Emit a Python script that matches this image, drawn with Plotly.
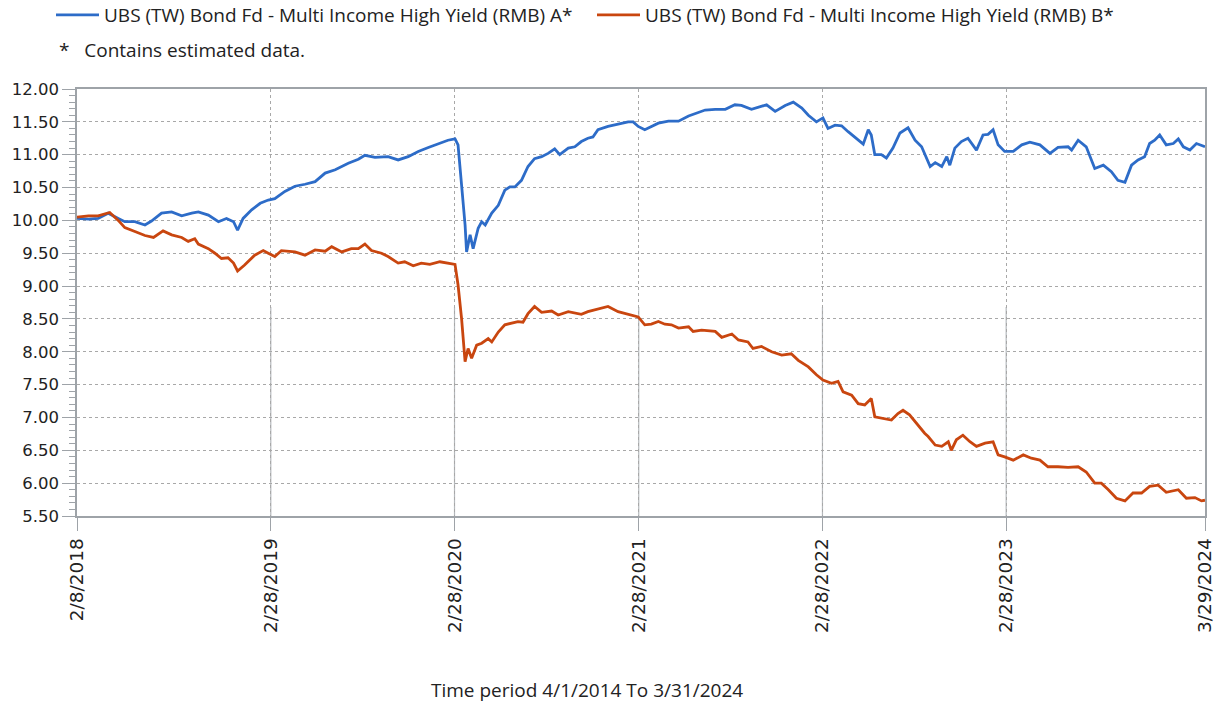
import plotly.graph_objects as go

# ---------------- data ----------------
series_a_name = "UBS (TW) Bond Fd - Multi Income High Yield (RMB) A*"
series_b_name = "UBS (TW) Bond Fd - Multi Income High Yield (RMB) B*"

dates_a = [
    "2018-02-08", "2018-03-03", "2018-03-22", "2018-04-11", "2018-05-01", "2018-05-14", "2018-06-03",
    "2018-06-23", "2018-07-06", "2018-07-26", "2018-08-15", "2018-09-04", "2018-09-24", "2018-10-07",
    "2018-10-27", "2018-11-16", "2018-12-02", "2018-12-16", "2018-12-24", "2019-01-04", "2019-01-21",
    "2019-02-07", "2019-02-23", "2019-03-08", "2019-03-28", "2019-04-17", "2019-05-07", "2019-05-27",
    "2019-06-16", "2019-07-06", "2019-08-01", "2019-08-21", "2019-09-03", "2019-09-23", "2019-10-19",
    "2019-11-08", "2019-11-28", "2019-12-18", "2020-01-07", "2020-01-26", "2020-02-15", "2020-02-29",
    "2020-03-06", "2020-03-13", "2020-03-20", "2020-03-23", "2020-03-30", "2020-04-05", "2020-04-15",
    "2020-04-22", "2020-04-29", "2020-05-12", "2020-05-25", "2020-06-07", "2020-06-17", "2020-06-27",
    "2020-07-10", "2020-07-23", "2020-08-05", "2020-08-19", "2020-09-01", "2020-09-14", "2020-09-24",
    "2020-10-11", "2020-10-24", "2020-11-06", "2020-11-19", "2020-11-29", "2020-12-09", "2020-12-29",
    "2021-01-18", "2021-02-07", "2021-02-17", "2021-02-27", "2021-03-12", "2021-04-08", "2021-04-28",
    "2021-05-18", "2021-06-07", "2021-06-26", "2021-07-10", "2021-07-30", "2021-08-19", "2021-09-07",
    "2021-09-20", "2021-10-10", "2021-10-30", "2021-11-09", "2021-11-26", "2021-12-16", "2022-01-01",
    "2022-01-18", "2022-01-31", "2022-02-16", "2022-03-01", "2022-03-11", "2022-03-25", "2022-04-07",
    "2022-04-20", "2022-05-07", "2022-05-20", "2022-05-30", "2022-06-05", "2022-06-12", "2022-06-25",
    "2022-07-05", "2022-07-18", "2022-08-01", "2022-08-17", "2022-08-31", "2022-09-13", "2022-09-30",
    "2022-10-10", "2022-10-23", "2022-11-02", "2022-11-08", "2022-11-18", "2022-12-01", "2022-12-14",
    "2022-12-31", "2023-01-13", "2023-01-23", "2023-02-02", "2023-02-12", "2023-02-25", "2023-03-14",
    "2023-03-31", "2023-04-16", "2023-05-06", "2023-05-26", "2023-06-11", "2023-07-01", "2023-07-08",
    "2023-07-21", "2023-08-06", "2023-08-23", "2023-09-09", "2023-09-25", "2023-10-08", "2023-10-22",
    "2023-11-04", "2023-11-17", "2023-11-30", "2023-12-10", "2023-12-20", "2023-12-30", "2024-01-12",
    "2024-01-26", "2024-02-05", "2024-02-15", "2024-02-28", "2024-03-12", "2024-03-29",
]
nav_a = [
    10.03, 10.02, 10.03, 10.11, 10.03, 9.98, 9.98,
    9.93, 9.99, 10.11, 10.13, 10.07, 10.11, 10.13,
    10.08, 9.98, 10.03, 9.98, 9.85, 10.03, 10.16,
    10.26, 10.31, 10.33, 10.44, 10.52, 10.55, 10.59,
    10.72, 10.77, 10.87, 10.93, 10.99, 10.96, 10.97,
    10.92, 10.97, 11.05, 11.11, 11.16, 11.22, 11.24,
    11.15, 10.54, 9.93, 9.52, 9.78, 9.57, 9.88,
    9.98, 9.93, 10.11, 10.23, 10.46, 10.51, 10.51,
    10.61, 10.82, 10.94, 10.97, 11.02, 11.09, 11.00,
    11.10, 11.12, 11.20, 11.25, 11.27, 11.38, 11.43,
    11.46, 11.50, 11.50, 11.43, 11.38, 11.48, 11.51,
    11.51, 11.59, 11.64, 11.68, 11.69, 11.69, 11.76,
    11.75, 11.69, 11.73, 11.76, 11.66, 11.75, 11.80,
    11.71, 11.60, 11.50, 11.56, 11.40, 11.45, 11.44,
    11.35, 11.25, 11.16, 11.38, 11.30, 11.00, 11.00,
    10.95, 11.10, 11.33, 11.41, 11.22, 11.12, 10.82,
    10.88, 10.82, 10.97, 10.84, 11.10, 11.20, 11.25,
    11.07, 11.30, 11.31, 11.38, 11.15, 11.05, 11.05,
    11.15, 11.19, 11.15, 11.02, 11.11, 11.12, 11.07,
    11.22, 11.12, 10.79, 10.84, 10.74, 10.61, 10.58,
    10.84, 10.92, 10.97, 11.17, 11.22, 11.30, 11.15,
    11.17, 11.24, 11.12, 11.07, 11.17, 11.12,
]

dates_b = [
    "2018-02-08", "2018-03-03", "2018-03-22", "2018-04-14", "2018-05-01", "2018-05-14", "2018-06-03",
    "2018-06-23", "2018-07-10", "2018-07-29", "2018-08-15", "2018-09-04", "2018-09-17", "2018-09-30",
    "2018-10-07", "2018-10-27", "2018-11-09", "2018-11-22", "2018-12-05", "2018-12-16", "2018-12-24",
    "2019-01-07", "2019-01-27", "2019-02-13", "2019-02-23", "2019-03-08", "2019-03-21", "2019-04-17",
    "2019-05-07", "2019-05-27", "2019-06-16", "2019-06-29", "2019-07-19", "2019-08-07", "2019-08-21",
    "2019-09-03", "2019-09-16", "2019-10-06", "2019-10-19", "2019-11-08", "2019-11-21", "2019-12-08",
    "2019-12-24", "2020-01-10", "2020-01-30", "2020-02-15", "2020-02-29", "2020-03-06", "2020-03-13",
    "2020-03-20", "2020-03-26", "2020-04-02", "2020-04-12", "2020-04-22", "2020-05-05", "2020-05-12",
    "2020-05-25", "2020-06-07", "2020-06-20", "2020-07-03", "2020-07-13", "2020-07-23", "2020-08-05",
    "2020-08-19", "2020-09-08", "2020-09-21", "2020-10-11", "2020-11-06", "2020-11-19", "2020-12-03",
    "2020-12-29", "2021-01-18", "2021-02-07", "2021-02-27", "2021-03-12", "2021-03-25", "2021-04-08",
    "2021-04-21", "2021-05-04", "2021-05-18", "2021-06-07", "2021-06-16", "2021-07-03", "2021-07-30",
    "2021-08-12", "2021-09-01", "2021-09-14", "2021-10-03", "2021-10-13", "2021-10-30", "2021-11-19",
    "2021-12-09", "2021-12-28", "2022-01-11", "2022-01-31", "2022-02-16", "2022-03-01", "2022-03-18",
    "2022-03-31", "2022-04-10", "2022-04-27", "2022-05-10", "2022-05-23", "2022-06-05", "2022-06-12",
    "2022-06-29", "2022-07-15", "2022-07-28", "2022-08-07", "2022-08-20", "2022-09-06", "2022-09-19",
    "2022-09-26", "2022-10-10", "2022-10-23", "2022-11-05", "2022-11-11", "2022-11-21", "2022-12-04",
    "2022-12-18", "2022-12-31", "2023-01-17", "2023-02-02", "2023-02-12", "2023-02-25", "2023-03-14",
    "2023-04-03", "2023-04-19", "2023-05-06", "2023-05-22", "2023-06-11", "2023-07-01", "2023-07-21",
    "2023-08-06", "2023-08-23", "2023-09-05", "2023-09-19", "2023-10-05", "2023-10-22", "2023-11-07",
    "2023-11-24", "2023-12-10", "2023-12-27", "2024-01-12", "2024-02-05", "2024-02-21", "2024-03-09",
    "2024-03-22", "2024-03-29",
]
nav_b = [
    10.05, 10.07, 10.07, 10.12, 10.00, 9.89, 9.83,
    9.77, 9.74, 9.84, 9.78, 9.74, 9.68, 9.72,
    9.64, 9.57, 9.50, 9.42, 9.43, 9.35, 9.23,
    9.32, 9.47, 9.54, 9.50, 9.45, 9.54, 9.52,
    9.47, 9.55, 9.53, 9.60, 9.52, 9.57, 9.57,
    9.64, 9.54, 9.50, 9.45, 9.35, 9.37, 9.31,
    9.35, 9.33, 9.37, 9.35, 9.33, 9.02, 8.51,
    7.85, 8.05, 7.90, 8.10, 8.13, 8.20, 8.15,
    8.30, 8.41, 8.43, 8.46, 8.45, 8.58, 8.69,
    8.60, 8.62, 8.56, 8.61, 8.57, 8.61, 8.64,
    8.69, 8.61, 8.57, 8.53, 8.41, 8.42, 8.46,
    8.42, 8.41, 8.36, 8.38, 8.31, 8.33, 8.31,
    8.22, 8.27, 8.18, 8.15, 8.05, 8.08, 8.00,
    7.95, 7.97, 7.87, 7.77, 7.65, 7.57, 7.52,
    7.55, 7.39, 7.34, 7.21, 7.19, 7.29, 7.01,
    6.99, 6.96, 7.06, 7.11, 7.04, 6.88, 6.76,
    6.71, 6.58, 6.56, 6.63, 6.50, 6.66, 6.73,
    6.63, 6.56, 6.61, 6.63, 6.43, 6.40, 6.35,
    6.43, 6.38, 6.35, 6.25, 6.25, 6.24, 6.25,
    6.17, 6.00, 6.00, 5.90, 5.77, 5.73, 5.85,
    5.85, 5.95, 5.97, 5.86, 5.90, 5.77, 5.78,
    5.73, 5.74,
]

x_tick_dates = ["2018-02-08", "2019-02-28", "2020-02-28", "2021-02-28", "2022-02-28", "2023-02-28", "2024-03-29"]
x_tick_labels = ["2/8/2018", "2/28/2019", "2/28/2020", "2/28/2021", "2/28/2022", "2/28/2023", "3/29/2024"]
y_min, y_max, y_step = 5.5, 12.0, 0.5
solid_grid_top = 8.68   # vertical gridlines turn from dotted to solid below this level

period_text = "Time period 4/1/2014 To 3/31/2024"
note_text = "*\u00a0\u00a0\u00a0Contains estimated data."

# ---------------- styling / layout geometry ----------------
W, H = 1232, 706
PLOT_L, PLOT_T, PLOT_R, PLOT_B = 77, 89, 1205, 516   # plot frame in page pixels
ML, MT = PLOT_L, PLOT_T
PW, PH = PLOT_R - PLOT_L, PLOT_B - PLOT_T
MR, MB = W - ML - PW, H - MT - PH


def px_to_paper_x(px):
    return (px - PLOT_L) / PW


def px_to_paper_y(py):
    return (PLOT_B - py) / PH


BLUE = "#2D6CC8"
ORANGE = "#C9460F"
GRID = "#A8A8A8"
AXIS = "#9EA3A8"
TEXT = "#222222"
UI_FONT = "Open Sans"
TICK_FONT = "DejaVu Sans"

fig = go.Figure()
fig.add_trace(go.Scatter(x=dates_a, y=nav_a, mode="lines", name=series_a_name,
                         line=dict(color=BLUE, width=2.8)))
fig.add_trace(go.Scatter(x=dates_b, y=nav_b, mode="lines", name=series_b_name,
                         line=dict(color=ORANGE, width=2.8)))

# lower, solid part of vertical gridlines
for d in x_tick_dates[1:-1]:
    fig.add_shape(type="line", xref="x", yref="y", x0=d, x1=d, y0=y_min, y1=solid_grid_top,
                  line=dict(color="#B4B8BC", width=1.2), layer="below")

fig.update_layout(
    width=W, height=H,
    margin=dict(l=ML, r=MR, t=MT, b=MB, autoexpand=False),
    paper_bgcolor="white", plot_bgcolor="white",
    font=dict(family=UI_FONT, size=19, color=TEXT),
    showlegend=True,
    legend=dict(orientation="h", xref="paper", yref="paper",
                x=px_to_paper_x(51), y=px_to_paper_y(15), xanchor="left", yanchor="middle",
                font=dict(family=UI_FONT, size=19, color=TEXT),
                itemwidth=43, entrywidth=483, entrywidthmode="pixels",
                bgcolor="rgba(0,0,0,0)", itemclick=False),
    annotations=[
        dict(text=note_text, xref="paper", yref="paper",
             x=px_to_paper_x(57), y=px_to_paper_y(49.5), xanchor="left", yanchor="middle",
             showarrow=False, font=dict(family=UI_FONT, size=19, color=TEXT)),
        dict(text=period_text, xref="paper", yref="paper",
             x=px_to_paper_x(587), y=px_to_paper_y(690), xanchor="center", yanchor="middle",
             showarrow=False, font=dict(family=UI_FONT, size=19, color=TEXT)),
    ],
)

fig.update_xaxes(
    type="date", range=[x_tick_dates[0], x_tick_dates[-1]],
    tickmode="array", tickvals=x_tick_dates, ticktext=x_tick_labels,
    tickangle=-90, tickfont=dict(family=TICK_FONT, size=18.5, color=TEXT),
    ticks="outside", ticklen=13, tickcolor=AXIS, tickwidth=1.2,
    showgrid=True, gridcolor=GRID, griddash="dot", gridwidth=1,
    showline=True, linecolor=AXIS, linewidth=1.6, mirror=True,
    zeroline=False, automargin=False,
)
fig.update_yaxes(
    range=[y_min, y_max], dtick=y_step, tick0=y_min, tickformat=".2f",
    tickfont=dict(family=TICK_FONT, size=16.5, color=TEXT),
    ticks="outside", ticklen=13, tickcolor=AXIS, tickwidth=1.2,
    minor=dict(dtick=0.1, ticks="outside", ticklen=6, tickcolor=AXIS, tickwidth=1, showgrid=False),
    showgrid=True, gridcolor=GRID, griddash="dot", gridwidth=1,
    showline=True, linecolor=AXIS, linewidth=1.6, mirror=True,
    zeroline=False, automargin=False,
)

# remove the browser's default 8px page margin so the figure fills the window exactly
fig.write_html("out.html", config={"displayModeBar": False},
               post_script="document.body.style.margin='0';")
